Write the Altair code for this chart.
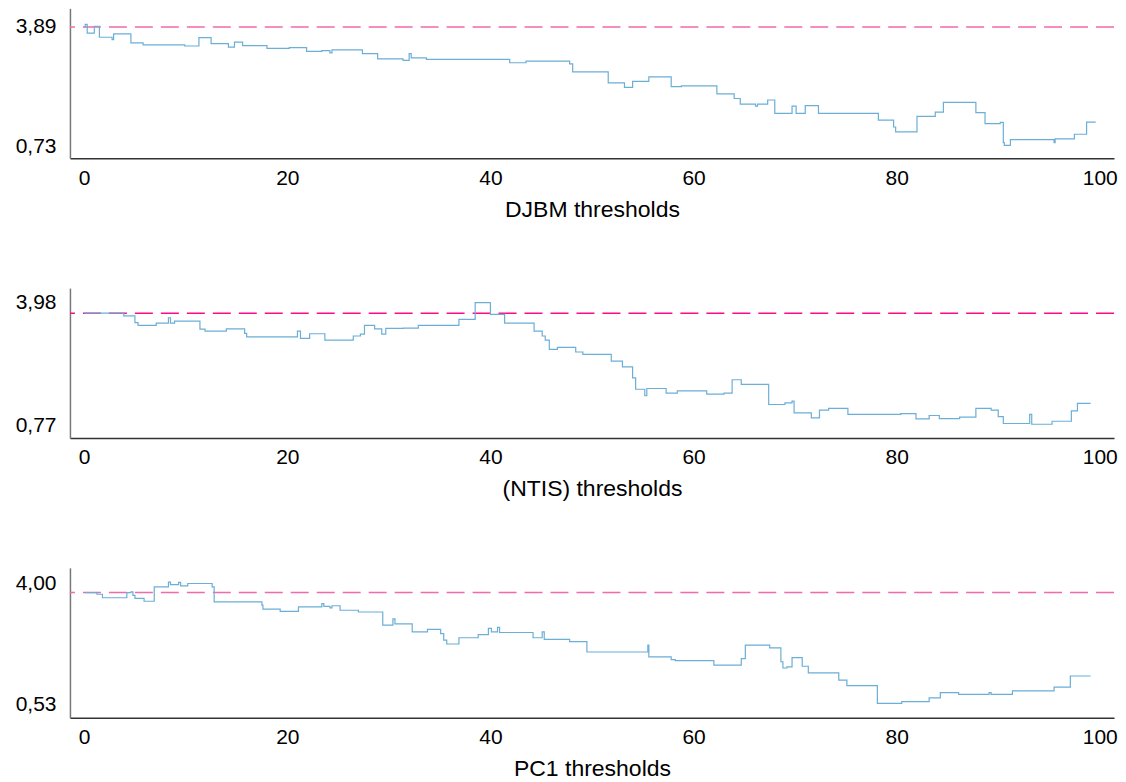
import altair as alt
import pandas as pd

# ---------------- data (step levels: x where level starts, value) ----------------
djbm_x = [0.0, 0.1, 0.3, 1.0, 1.5, 2.75, 2.9, 4.6, 5.8, 9.9, 11.3, 12.5, 14.2, 14.8, 15.6,
          18.0, 20.2, 21.9, 23.4, 24.2, 24.4, 27.4, 28.9, 31.4, 32.0, 32.2, 33.7, 41.9, 43.5,
          47.8, 48.1, 51.6, 53.2, 54.0, 55.6, 57.8, 58.8, 62.3, 64.0, 64.6, 66.1, 66.3, 67.3,
          68.0, 69.7, 70.1, 71.0, 72.3, 78.2, 79.7, 79.9, 82.0, 83.8, 84.6, 87.8, 88.7, 90.2,
          90.5, 90.6, 91.2, 95.5, 95.6, 97.5, 98.7, 99.6]
djbm_y = [3.88, 3.95, 3.72, 3.90, 3.61, 3.55, 3.70, 3.46, 3.41, 3.38, 3.60, 3.44, 3.35, 3.48, 3.39,
          3.32, 3.34, 3.24, 3.26, 3.20, 3.28, 3.18, 3.04, 3.00, 3.18, 3.07, 3.03, 2.94, 2.98,
          2.91, 2.70, 2.41, 2.29, 2.45, 2.57, 2.31, 2.33, 2.12, 2.00, 1.85, 1.80, 1.85, 1.96,
          1.61, 1.80, 1.61, 1.81, 1.61, 1.43, 1.25, 1.12, 1.53, 1.64, 1.90, 1.63, 1.34, 1.37,
          0.84, 0.77, 0.92, 0.84, 0.94, 1.06, 1.38, 1.38]

ntis_x = [0.0, 3.9, 5.0, 5.3, 7.1, 8.3, 8.5, 8.9, 11.4, 11.9, 14.0, 15.8, 16.0, 21.0, 21.3,
          22.2, 23.7, 26.5, 27.2, 27.6, 28.6, 29.3, 29.7, 31.4, 32.9, 36.9, 38.5, 40.0, 41.4,
          44.3, 45.1, 45.4, 45.8, 46.6, 48.4, 49.1, 51.9, 53.0, 54.0, 54.3, 55.2, 55.4, 57.3,
          58.4, 61.3, 63.0, 63.8, 64.7, 67.4, 69.0, 69.7, 69.9, 71.6, 72.4, 73.3, 75.2, 80.4,
          81.9, 83.2, 84.2, 86.2, 87.8, 89.3, 90.0, 90.5, 93.1, 93.3, 95.3, 97.2, 97.8, 99.1]
ntis_y = [3.71, 3.64, 3.46, 3.39, 3.45, 3.59, 3.45, 3.50, 3.29, 3.24, 3.30, 3.18, 3.09, 3.24, 3.05,
          3.17, 3.00, 3.11, 3.16, 3.39, 3.30, 3.16, 3.31, 3.32, 3.39, 3.55, 3.99, 3.68, 3.45,
          3.24, 3.11, 3.00, 2.76, 2.81, 2.69, 2.63, 2.45, 2.30, 2.01, 1.71, 1.54, 1.73, 1.61,
          1.67, 1.58, 1.61, 1.96, 1.84, 1.31, 1.35, 1.40, 1.09, 0.96, 1.16, 1.21, 1.05, 1.07,
          0.93, 1.02, 0.94, 0.98, 1.21, 1.16, 0.99, 0.81, 1.05, 0.79, 0.87, 1.14, 1.34, 1.34]

pc1_x = [0.1, 1.25, 1.8, 4.2, 4.6, 4.8, 5.0, 5.9, 6.9, 8.3, 8.5, 9.3, 9.5, 10.2, 12.6, 12.8,
         17.5, 17.6, 19.3, 21.1, 23.4, 23.6, 24.2, 24.4, 25.2, 27.0, 29.4, 30.4, 30.6, 32.3,
         33.8, 35.1, 35.4, 35.7, 36.9, 38.8, 39.8, 40.1, 40.7, 40.9, 44.2, 45.1, 45.3, 47.8,
         49.5, 55.5, 55.6, 57.8, 58.2, 62.0, 64.7, 65.1, 67.5, 68.6, 68.8, 69.2, 69.7, 70.7,
         71.3, 74.3, 75.1, 78.1, 80.5, 83.2, 84.3, 86.1, 89.1, 89.3, 91.4, 95.5, 97.1, 99.1]
pc1_y = [3.75, 3.70, 3.60, 3.75, 3.77, 3.67, 3.58, 3.50, 3.91, 4.05, 3.98, 4.04, 3.94, 4.01, 3.91, 3.48,
         3.39, 3.27, 3.21, 3.34, 3.43, 3.35, 3.31, 3.37, 3.24, 3.19, 2.81, 2.99, 2.85, 2.62,
         2.69, 2.57, 2.38, 2.27, 2.45, 2.54, 2.72, 2.62, 2.75, 2.60, 2.45, 2.62, 2.40, 2.34,
         2.04, 2.24, 1.90, 1.82, 1.79, 1.66, 1.85, 2.24, 2.16, 1.76, 1.58, 1.61, 1.88, 1.63,
         1.44, 1.23, 1.07, 0.56, 0.61, 0.72, 0.87, 0.82, 0.87, 0.82, 0.92, 1.03, 1.35, 1.35]

ref_values = [3.88, 3.71, 3.75]
ref_colors = ["#f26aab", "#ff0a84", "#f26aab"]
y_ticks = [[0.73, 3.89], [0.77, 3.98], [0.53, 4.00]]
y_domains = [[0.43, 4.37], [0.43, 4.37], [0.15, 4.46]]
x_ticks = [0, 20, 40, 60, 80, 100]
titles = ["DJBM thresholds", "(NTIS) thresholds", "PC1 thresholds"]

FONT = "Liberation Sans"
LINE_COLOR = "#6baed6"


def panel(xs, ys, ref, ref_color, ticks, domain, title):
    df = pd.DataFrame({"x": xs, "y": ys})
    xenc = alt.X("x:Q",
                 scale=alt.Scale(domain=[-1.4, 101.4], nice=False, zero=False),
                 axis=alt.Axis(values=x_ticks, title=title, grid=False, ticks=False,
                               labelFontSize=21, titleFontSize=23, labelFont=FONT,
                               titleFont=FONT, titleFontWeight="normal", labelColor="#000",
                               titleColor="#000", labelPadding=9, titlePadding=10,
                               domainColor="#333333", domainWidth=1.5, labelFlush=False))
    yenc = alt.Y("y:Q",
                 scale=alt.Scale(domain=domain, nice=False, zero=False),
                 axis=alt.Axis(values=ticks, title=None, grid=False, ticks=False,
                               labelFontSize=21, labelFont=FONT, labelColor="#000",
                               labelPadding=14, domainColor="#777777", domainWidth=1.5,
                               labelExpr="replace(format(datum.value, '.2f'), '.', ',')"))
    line = alt.Chart(df).mark_line(interpolate="step-after", color=LINE_COLOR,
                                   strokeWidth=1.2).encode(x=xenc, y=yenc)
    rule = alt.Chart(pd.DataFrame({"r": [ref]})).mark_rule(
        color=ref_color, strokeWidth=1.4, strokeDash=[18, 8]).encode(y="r:Q")
    return alt.layer(rule, line).properties(width=1045, height=150)


panels = [
    panel(djbm_x, djbm_y, ref_values[0], ref_colors[0], y_ticks[0], y_domains[0], titles[0]),
    panel(ntis_x, ntis_y, ref_values[1], ref_colors[1], y_ticks[1], y_domains[1], titles[1]),
    panel(pc1_x, pc1_y, ref_values[2], ref_colors[2], y_ticks[2], y_domains[2], titles[2]),
]

chart = alt.vconcat(*panels, spacing=67).properties(
    padding={"left": 7, "top": 0, "right": 0, "bottom": 0}
).configure_view(stroke=None)

chart.save("out.html", embed_options={"renderer": "svg", "actions": False})
